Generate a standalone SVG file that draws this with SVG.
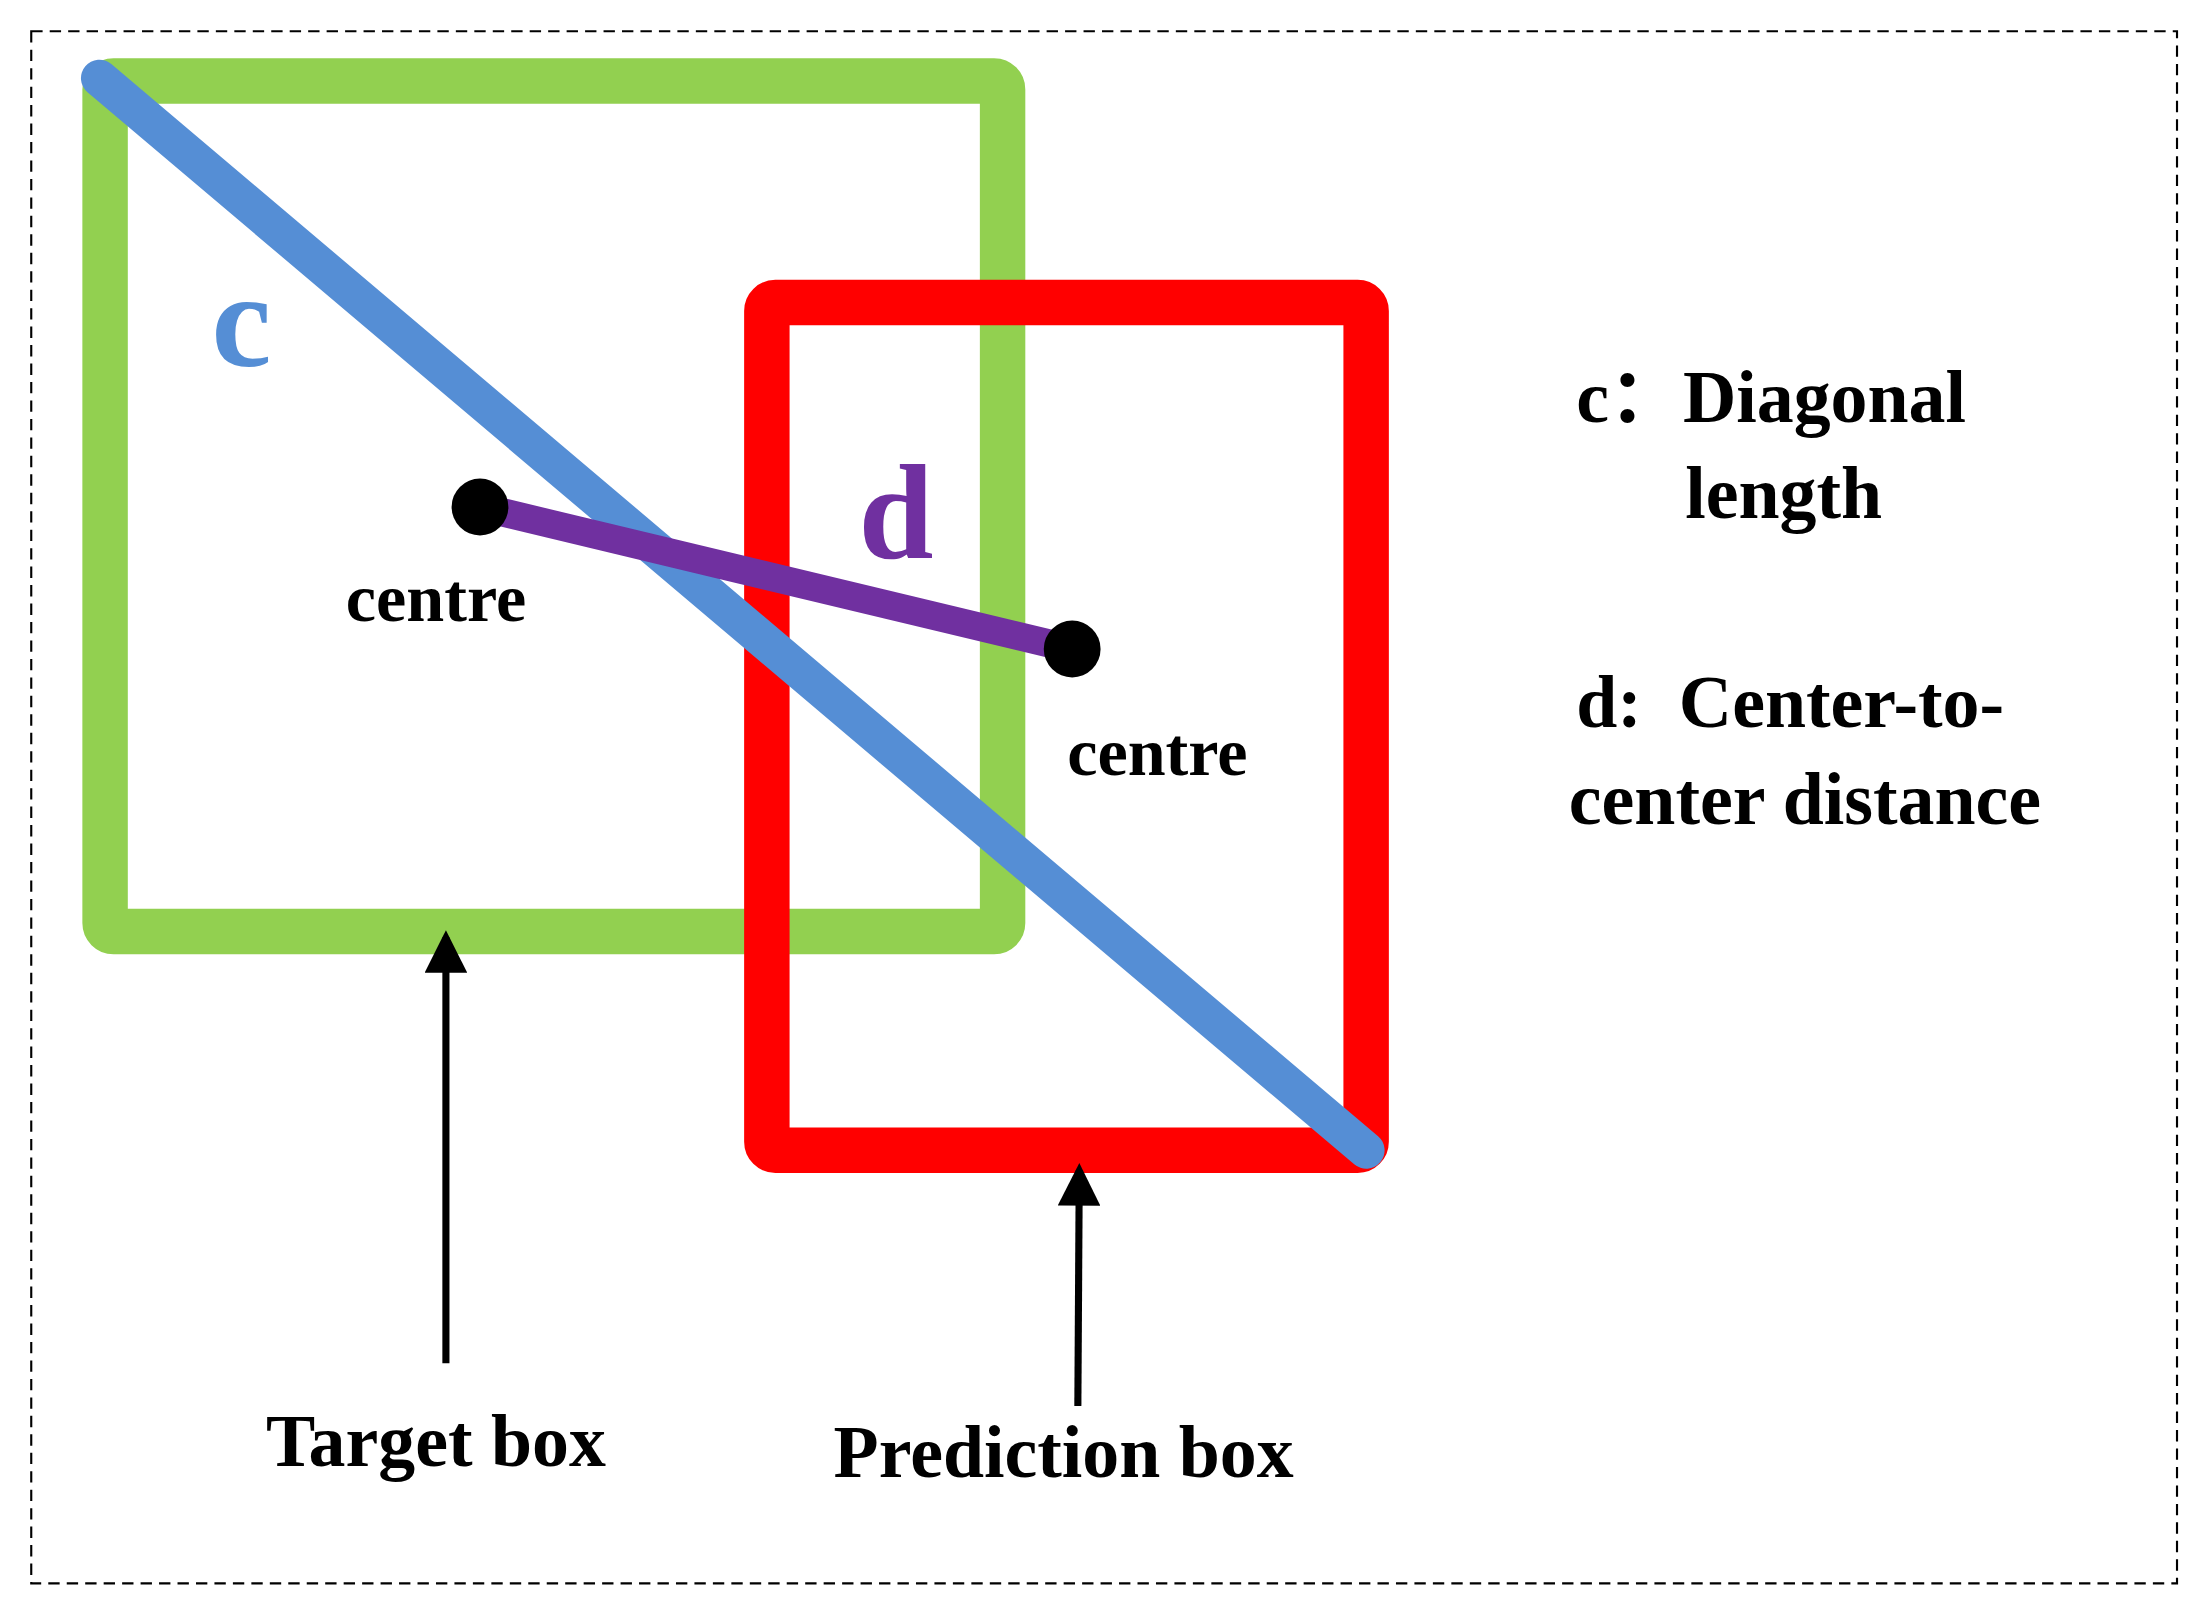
<svg xmlns="http://www.w3.org/2000/svg" width="2204" height="1599" viewBox="0 0 2204 1599">
<style>
.t{font-family:"Liberation Serif",serif;font-weight:bold;fill:#000}
</style>
<defs><marker id="ah" markerWidth="6" markerHeight="6" refX="5" refY="3" orient="auto" markerUnits="strokeWidth"><path d="M0,0 L6,3 L0,6 Z" fill="#000"/></marker></defs>
<rect width="2204" height="1599" fill="#fff"/>
<g transform="scale(1.4201)">
<rect x="22" y="22" width="1511" height="1093" fill="none" stroke="#000" stroke-width="1.5" stroke-dasharray="8,5"/>
<g id="target-box"><rect x="74" y="57" width="632" height="599" rx="6" fill="none" stroke="#92d050" stroke-width="32"/></g>
<g id="prediction-box"><rect x="540" y="213" width="422" height="597" rx="6" fill="none" stroke="#ff0000" stroke-width="32"/></g>
<g id="connectors">
<line x1="70" y1="55" x2="962" y2="810" stroke="#558ed5" stroke-width="26" stroke-linecap="round"/>
<line x1="338" y1="357" x2="755" y2="457" stroke="#7030a0" stroke-width="20"/>
<line x1="314" y1="960" x2="314" y2="660" stroke="#000" stroke-width="5" marker-end="url(#ah)"/>
<line x1="759" y1="990" x2="760" y2="824" stroke="#000" stroke-width="5" marker-end="url(#ah)"/>
</g>
<g id="centre1"><circle cx="338" cy="357" r="20" fill="#000"/><text class="t" x="307" y="437" font-size="48" text-anchor="middle">centre</text></g>
<g id="centre2"><circle cx="755" cy="457" r="20" fill="#000"/><text class="t" x="815" y="546" font-size="48" text-anchor="middle">centre</text></g>
<text class="t" x="170" y="258" font-size="95" text-anchor="middle" style="fill:#558ed5">c</text>
<text class="t" x="631" y="393" font-size="95" text-anchor="middle" style="fill:#7030a0">d</text>
<g id="legend">
<text class="t" x="1110" y="297" font-size="52">c<tspan font-family="Noto Sans CJK SC">：</tspan>Diagonal</text>
<text class="t" x="1256" y="365" font-size="52" text-anchor="middle">length</text>
<text class="t" x="1110" y="512" font-size="52" xml:space="preserve">d:  Center-to-</text>
<text class="t" x="1271" y="580" font-size="52" text-anchor="middle">center distance</text>
</g>
<text class="t" x="307" y="1032" font-size="52" text-anchor="middle">Target box</text>
<text class="t" x="749" y="1040" font-size="52" text-anchor="middle">Prediction box</text>
</g>
</svg>
